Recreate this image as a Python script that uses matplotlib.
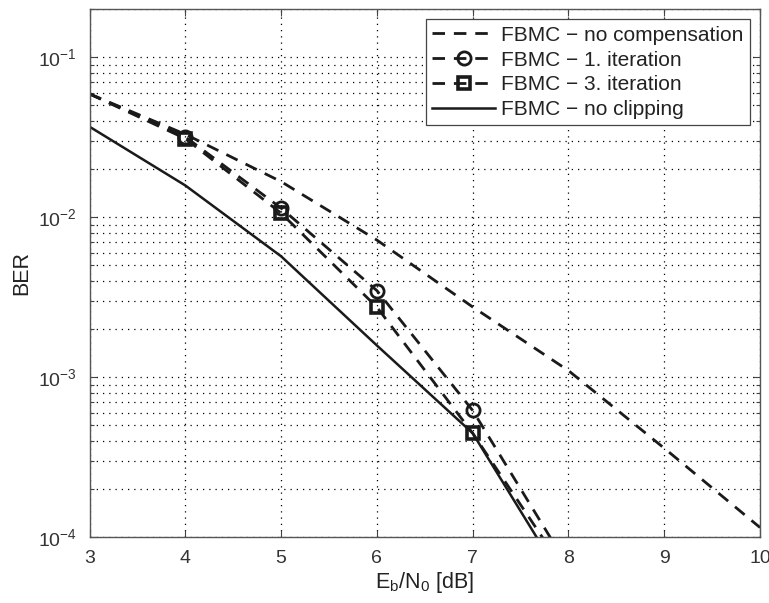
import matplotlib
matplotlib.use("Agg")
import matplotlib.pyplot as plt
import numpy as np
from matplotlib.ticker import LogLocator, FixedLocator

plt.rcParams['font.family'] = ['Liberation Sans', 'DejaVu Sans']
plt.rcParams['mathtext.fontset'] = 'custom'
plt.rcParams['mathtext.rm'] = 'Liberation Sans'
plt.rcParams['mathtext.it'] = 'Liberation Sans'
plt.rcParams['mathtext.default'] = 'regular'

# Eb/N0 in dB
ebn0 = [3, 4, 5, 6, 7, 8, 9, 10]
ebn0_short = [3, 4, 5, 6, 7, 8]

ber_no_comp = [0.059, 0.033, 0.0167, 0.0072, 0.00275, 0.0011, 3.6e-4, 1.15e-4]
ber_iter1 = [0.059, 0.0318, 0.0114, 0.00348, 6.2e-4, 6.5e-5]
ber_iter3 = [0.059, 0.0310, 0.0106, 0.00274, 4.47e-4, 5.7e-5]
ber_no_clip = [0.0368, 0.0158, 0.0057, 0.00158, 4.47e-4, 4.75e-5]

labels = ['FBMC \u2212 no compensation', 'FBMC \u2212 1. iteration',
          'FBMC \u2212 3. iteration', 'FBMC \u2212 no clipping']

fig = plt.figure(figsize=(7.69, 6.03), dpi=100)
ax = fig.add_axes([0.1164, 0.109, 0.872, 0.876])

ink = '#1a1a1a'
dash = (4.5, 3.2)
lw = 2.0
ax.plot(ebn0, ber_no_comp, color=ink, lw=lw, dashes=dash, label=labels[0])
ax.plot(ebn0_short, ber_iter1, color=ink, lw=lw, dashes=dash,
        marker='o', markevery=[1, 2, 3, 4], ms=9.5, mfc='none', mec=ink,
        mew=2.0, label=labels[1])
ax.plot(ebn0_short, ber_iter3, color=ink, lw=lw, dashes=dash,
        marker='s', markevery=[1, 2, 3, 4], ms=9, mfc='none', mec=ink,
        mew=2.6, label=labels[2])
ax.plot(ebn0_short, ber_no_clip, color=ink, lw=1.8, ls='-', label=labels[3])

ax.set_yscale('log')
ax.set_xlim(3, 10)
ax.set_ylim(1e-4, 0.2)
ax.xaxis.set_major_locator(FixedLocator(ebn0))
ax.yaxis.set_major_locator(LogLocator(base=10, numticks=10))
ax.yaxis.set_minor_locator(LogLocator(base=10, subs=np.arange(2, 10), numticks=20))

gridstyle = dict(color='black', linestyle=(0, (1, 4)), linewidth=0.9)
ax.grid(True, which='major', axis='both', **gridstyle)
ax.grid(True, which='minor', axis='y', **gridstyle)

ax.tick_params(which='both', direction='in', top=True, right=True,
               colors='#444444', labelcolor='#333333', labelsize=14)
ax.tick_params(which='major', length=5, width=0.8, pad=9)
ax.tick_params(which='minor', length=3, width=0.8, pad=9)
for s in ax.spines.values():
    s.set_color('#555555')
    s.set_linewidth(1.0)

ax.set_xlabel('E$_b$/N$_0$ [dB]', fontsize=15.5, color='#222222', labelpad=2)
ax.set_ylabel('BER', fontsize=15.5, color='#222222', labelpad=4)

leg = ax.legend(loc='upper right', fontsize=15, handlelength=3.0,
                labelspacing=0.28, borderpad=0.3, handletextpad=0.3,
                borderaxespad=0.5, fancybox=False, framealpha=1, numpoints=1)
leg.get_frame().set_edgecolor('#444444')
leg.get_frame().set_linewidth(0.9)
for t in leg.get_texts():
    t.set_color('#222222')

fig.savefig('out.png', dpi=100)
